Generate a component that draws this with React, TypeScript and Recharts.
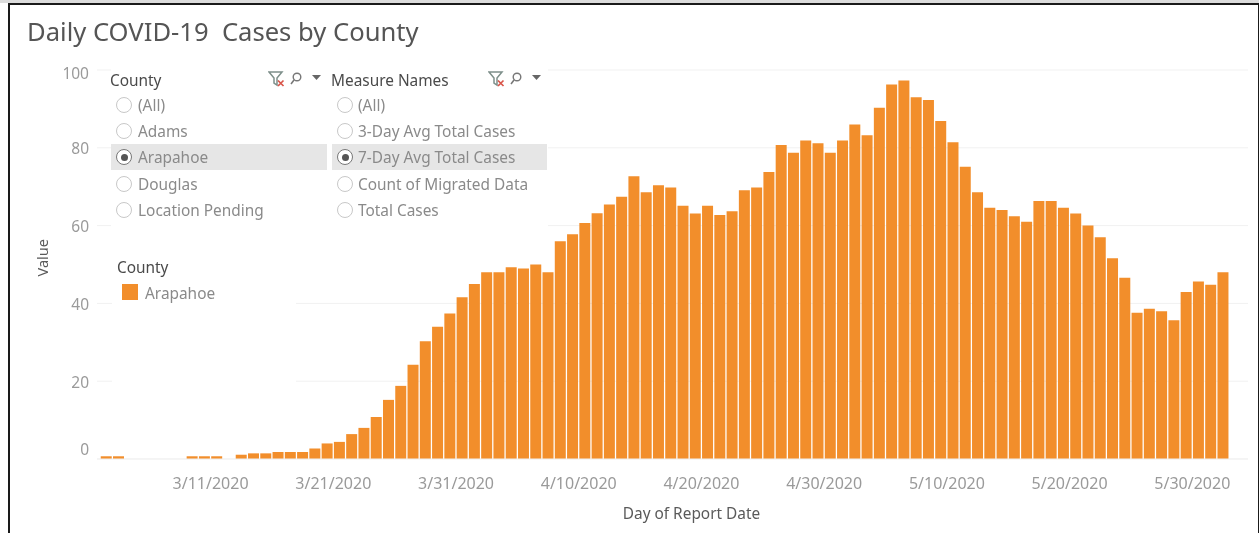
import { Bar, BarChart, CartesianGrid, XAxis, YAxis } from "recharts";

const START = new Date(2020, 2, 2);

// 7-day average per day, 3/2 to 6/1; null where the source has no bar
const values: (number | null)[] = [
  0.7, 0.7, null, null, null, null, null, 0.7, 0.7, 0.7,
  null, 1.1, 1.45, 1.45, 1.8, 1.8, 1.8, 2.7, 4, 4.4,
  6.4, 8, 10.8, 15.2, 18.8, 24.2, 30.3, 34, 37.4, 41.6,
  45, 48, 48, 49.3, 49, 50, 48, 56, 57.8, 60.7,
  63.2, 65.4, 67.4, 72.7, 68.6, 70.4, 69.8, 65.1, 63.1, 65.1,
  62.7, 63.7, 69.1, 69.8, 73.8, 80.7, 78.7, 81.9, 81.2, 78.7,
  81.9, 86, 83.2, 90.3, 96.3, 97.3, 93, 92.3, 86.9, 81.4,
  75.1, 68.6, 64.6, 64, 62.4, 61, 66.3, 66.3, 64.6, 63.1,
  60, 57, 51.6, 46.6, 37.6, 38.6, 38, 35.7, 42.9, 45.6,
  44.8, 48,
];

const yTicks = [0, 20, 40, 60, 80, 100];
const xTicks = ["3/11/2020", "3/21/2020", "3/31/2020", "4/10/2020", "4/20/2020", "4/30/2020", "5/10/2020", "5/20/2020", "5/30/2020"];

const countyOptions = ["(All)", "Adams", "Arapahoe", "Douglas", "Location Pending"];
const measureOptions = ["(All)", "3-Day Avg Total Cases", "7-Day Avg Total Cases", "Count of Migrated Data", "Total Cases"];

const dayLabel = (i: number) => {
  const d = new Date(START.getFullYear(), START.getMonth(), START.getDate() + i);
  return `${d.getMonth() + 1}/${d.getDate()}/${d.getFullYear()}`;
};
const data = values.map((v, i) => ({ day: dayLabel(i), value: v }));

const FONT = '"Noto Sans", "Open Sans", sans-serif';
const ORANGE = "#F28E2B";
const TICK_COLOR = "#9a9a9a";
const LABEL_COLOR = "#5a5a5a";
const OPTION_COLOR = "#8a8a8a";

function YTick({ x, y, payload }: any) {
  // tableau pushes the end labels inside the plot
  const shift = payload.value === 0 ? -10 : payload.value === 100 ? 3 : 1;
  return (
    <text x={x} y={y + shift} dy="0.36em" textAnchor="end" fontSize={15.5} fill={TICK_COLOR} fontFamily={FONT}>
      {payload.value}
    </text>
  );
}

function XTick({ x, y, payload }: any) {
  return (
    <text x={x - 6} y={y + 11} dy="0.71em" textAnchor="middle" fontSize={16} fill={TICK_COLOR} fontFamily={FONT}>
      {payload.value}
    </text>
  );
}

function CardIcons({ left }: { left: number }) {
  return (
    <svg style={{ position: "absolute", left, top: 70, width: 56, height: 18 }} viewBox="0 0 56 18">
      <path d="M1 2 H14 L9 8 V15 L6 13 V8 Z" fill="none" stroke="#7d8f8a" strokeWidth={1.5} />
      <path d="M10 10.5 L15.5 16 M15.5 10.5 L10 16" stroke="#d9564a" strokeWidth={1.7} />
      <circle cx={29} cy={7} r={3.8} fill="none" stroke="#777" strokeWidth={1.4} />
      <path d="M26 10 L23 14" stroke="#777" strokeWidth={1.6} />
      <path d="M44 5 H53 L48.5 10 Z" fill="#666" />
    </svg>
  );
}

function FilterCard({ title, options, selected, left, width, textLeft }: {
  title: string; options: string[]; selected: string; left: number; width: number; textLeft: number;
}) {
  return (
    <>
      <div style={{ position: "absolute", left: left - 1, top: 71, fontSize: 15.4, color: "#4a4a4a", lineHeight: "20px" }}>
        {title}
      </div>
      {options.map((opt, i) => {
        const top = [92, 118, 144, 171, 197][i];
        const on = opt === selected;
        return (
          <div key={opt} style={{ position: "absolute", left, top, width, height: 26, background: on ? "#e6e6e6" : "transparent" }}>
            <span style={{
              position: "absolute", left: 5, top: 5, width: 14, height: 14, borderRadius: "50%",
              border: `1.5px solid ${on ? "#777" : "#c8c8c8"}`, background: "#fff",
            }}>
              {on && <span style={{ position: "absolute", left: 3.5, top: 3.5, width: 7, height: 7, borderRadius: "50%", background: "#555" }} />}
            </span>
            <span style={{ position: "absolute", left: textLeft, top: 3, fontSize: 15.4, lineHeight: "22px", color: OPTION_COLOR, whiteSpace: "nowrap" }}>
              {opt}
            </span>
          </div>
        );
      })}
    </>
  );
}

export default function App() {
  return (
    <div style={{ position: "absolute", left: 0, top: 0, width: 1259, height: 533, background: "#fff", overflow: "hidden", fontFamily: FONT, filter: "blur(0.4px)" }}>
      <div style={{ position: "absolute", left: 0, top: 0, width: 1259, height: 3, background: "#dcdcdc" }} />
      <div style={{ position: "absolute", left: 8, top: 3, width: 1248, height: 530, borderTop: "2px solid #1a1a1a", borderLeft: "2px solid #1a1a1a", borderRight: "2px solid #1a1a1a" }} />

      <div style={{ position: "absolute", left: 27, top: 15, fontSize: 25.6, lineHeight: "34px", color: "#555", whiteSpace: "pre" }}>
        {"Daily COVID-19  Cases by County"}
      </div>

      <div style={{ position: "absolute", left: 0, top: 60 }}>
        <BarChart
          width={1259}
          height={473}
          data={data}
          margin={{ top: 10, right: 11, bottom: 0, left: 0 }}
          barCategoryGap="6%"
        >
          <CartesianGrid stroke="#f1f1f1" vertical={false} />
          <XAxis
            dataKey="day"
            ticks={xTicks}
            interval={0}
            tick={<XTick />}
            tickLine={false}
            axisLine={{ stroke: "#f1f1f1" }}
            padding={{ left: 3, right: 19 }}
            height={74}
            label={{ value: "Day of Report Date", position: "insideBottom", offset: 14, dx: 19, fontSize: 15.4, fill: LABEL_COLOR, fontFamily: FONT }}
          />
          <YAxis
            domain={[0, 100]}
            ticks={yTicks}
            tick={<YTick />}
            tickLine={false}
            axisLine={false}
            width={97}
            label={{ value: "Value", angle: -90, position: "insideLeft", offset: 43, dy: 12, fontSize: 14.5, fill: LABEL_COLOR, fontFamily: FONT }}
          />
          <Bar dataKey="value" fill={ORANGE} isAnimationActive={false} />
        </BarChart>
      </div>

      {/* filter cards and legend sit on white boxes that hide the gridlines */}
      <div style={{ position: "absolute", left: 111, top: 64, width: 437, height: 168, background: "#fff" }} />
      <div style={{ position: "absolute", left: 112, top: 232, width: 184, height: 155, background: "#fff" }} />

      <FilterCard title="County" options={countyOptions} selected="Arapahoe" left={111} width={216} textLeft={27} />
      <CardIcons left={268} />
      <FilterCard title="Measure Names" options={measureOptions} selected="7-Day Avg Total Cases" left={332} width={215} textLeft={26} />
      <CardIcons left={488} />

      <div style={{ position: "absolute", left: 117, top: 258, fontSize: 15.4, lineHeight: "20px", color: "#4a4a4a" }}>County</div>
      <div style={{ position: "absolute", left: 122, top: 284, width: 16, height: 16, background: ORANGE }} />
      <div style={{ position: "absolute", left: 145, top: 283, fontSize: 15.4, lineHeight: "22px", color: OPTION_COLOR }}>Arapahoe</div>
    </div>
  );
}
